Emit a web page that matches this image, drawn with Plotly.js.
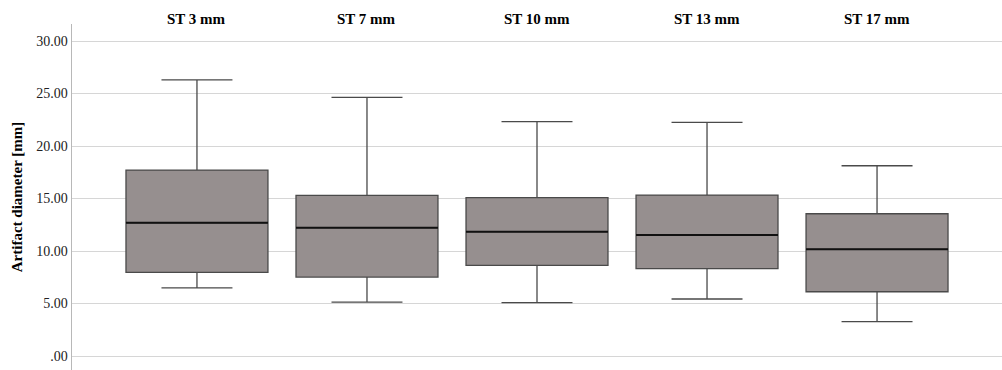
<!DOCTYPE html>
<html>
<head>
<meta charset="utf-8">
<script src="https://cdn.plot.ly/plotly-3.0.1.min.js"></script>
<style>html,body{margin:0;padding:0;background:#fff;}#chart{width:1002px;height:370px;}</style>
</head>
<body>
<div id="chart"></div>
<script>
// Data
var categories = ["ST 3 mm", "ST 7 mm", "ST 10 mm", "ST 13 mm", "ST 17 mm"];
var lowerWhisker = [6.48, 5.14, 5.08, 5.43, 3.27];
var q1Values     = [7.97, 7.52, 8.63, 8.32, 6.12];
var medianValues = [12.69, 12.22, 11.84, 11.52, 10.16];
var q3Values     = [17.71, 15.30, 15.08, 15.33, 13.55];
var upperWhisker = [26.29, 24.63, 22.32, 22.25, 18.12];
var yTickValues = [0, 5, 10, 15, 20, 25, 30];
var yTickLabels = [".00", "5.00", "10.00", "15.00", "20.00", "25.00", "30.00"];

var positions = categories.map(function (c, i) { return i; });
var boxWidth = 0.835;
var serif = "Liberation Serif, Times New Roman, serif";

var trace = {
  type: "box",
  x: positions,
  q1: q1Values,
  median: medianValues,
  q3: q3Values,
  lowerfence: lowerWhisker,
  upperfence: upperWhisker,
  boxpoints: false,
  width: boxWidth,
  whiskerwidth: 0.5,
  fillcolor: "rgb(150,143,143)",
  line: {color: "#4a4a4a", width: 1.3},
  hoverinfo: "skip",
  showlegend: false
};

var medianShapes = positions.map(function (p, i) {
  return {
    type: "line", xref: "x", yref: "y", layer: "above",
    x0: p - boxWidth / 2, x1: p + boxWidth / 2,
    y0: medianValues[i], y1: medianValues[i],
    line: {color: "#111", width: 2}
  };
});

var titleAnnotations = categories.map(function (c, i) {
  return {
    text: c, x: positions[i], xref: "x", y: 1.0145, yref: "paper",
    xanchor: "center", yanchor: "middle", showarrow: false,
    font: {family: serif, size: 15, color: "#000", weight: "bold"}
  };
});

var layout = {
  width: 1002, height: 370,
  margin: {l: 72, r: 0, t: 24, b: 0},
  paper_bgcolor: "#fff", plot_bgcolor: "#fff",
  xaxis: {
    range: [-0.735, 4.735], showticklabels: false, showgrid: false,
    zeroline: false, showline: false, ticks: ""
  },
  yaxis: {
    range: [-1.333, 31.619],
    tickvals: yTickValues, ticktext: yTickLabels,
    showgrid: true, gridcolor: "#d6d6d6", gridwidth: 1,
    zeroline: false, showline: true, linecolor: "#b8b8b8", linewidth: 1.5,
    ticks: "", ticklabelstandoff: 0,
    tickfont: {family: serif, size: 14, color: "#222"},
    title: {text: "Artifact diameter [mm]", standoff: 10,
            font: {family: serif, size: 15, color: "#000", weight: "bold"}}
  },
  shapes: medianShapes,
  annotations: titleAnnotations
};

Plotly.newPlot("chart", [trace], layout, {displayModeBar: false, staticPlot: true});
</script>
</body>
</html>
